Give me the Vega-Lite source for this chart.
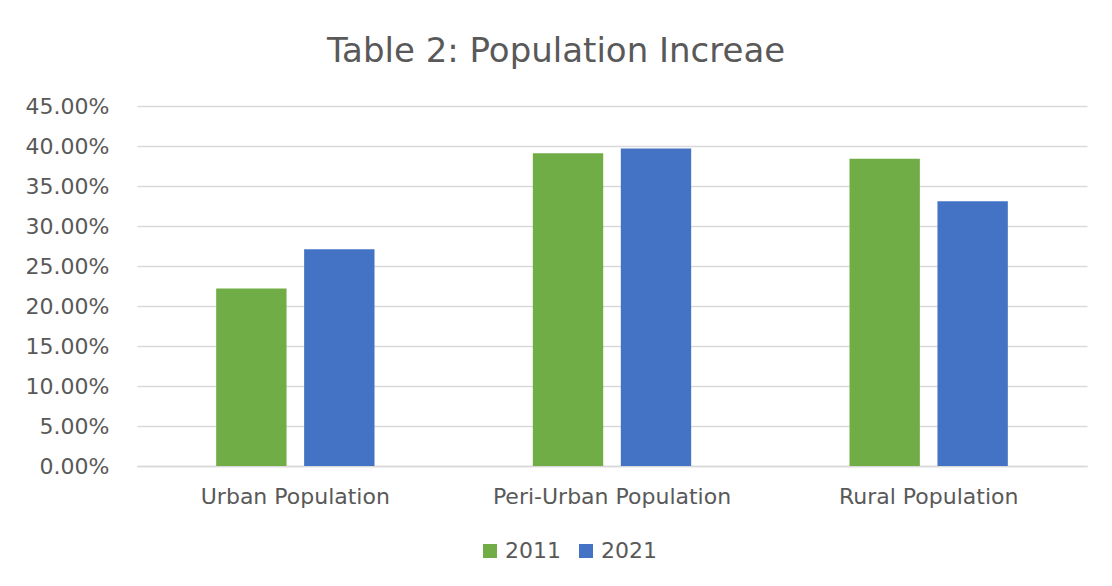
{
  "$schema": "https://vega.github.io/schema/vega-lite/v6.json",
  "autosize": {"type": "none"},
  "width": 950,
  "height": 360,
  "padding": {"left": 137, "top": 106, "right": 25, "bottom": 120},
  "background": "white",
  "title": {
    "text": "Table 2: Population Increae",
    "font": "DejaVu Sans",
    "fontSize": 34,
    "fontWeight": "normal",
    "color": "#595959",
    "anchor": "middle",
    "frame": "bounds",
    "offset": 26
  },
  "data": {
    "values": [
      {"category": "Urban Population", "year": "2011", "value": 0.222},
      {"category": "Urban Population", "year": "2021", "value": 0.271},
      {"category": "Peri-Urban Population", "year": "2011", "value": 0.391},
      {"category": "Peri-Urban Population", "year": "2021", "value": 0.397},
      {"category": "Rural Population", "year": "2011", "value": 0.384},
      {"category": "Rural Population", "year": "2021", "value": 0.331}
    ]
  },
  "mark": {"type": "bar"},
  "encoding": {
    "x": {
      "field": "category",
      "type": "nominal",
      "sort": null,
      "title": null,
      "scale": {"paddingInner": 0.5, "paddingOuter": 0.25},
      "axis": {
        "labelAngle": 0,
        "labelFont": "DejaVu Sans",
        "labelFontSize": 22,
        "labelColor": "#595959",
        "labelPadding": 20,
        "labelLimit": 400,
        "ticks": false,
        "domainColor": "#d9d9d9",
        "domainWidth": 1.5
      }
    },
    "xOffset": {
      "field": "year",
      "type": "nominal",
      "scale": {"paddingInner": 0.2, "paddingOuter": 0}
    },
    "y": {
      "field": "value",
      "type": "quantitative",
      "title": null,
      "scale": {"domain": [0, 0.45]},
      "axis": {
        "values": [0, 0.05, 0.1, 0.15, 0.2, 0.25, 0.3, 0.35, 0.4, 0.45],
        "format": ".2%",
        "labelFont": "DejaVu Sans",
        "labelFontSize": 22,
        "labelColor": "#595959",
        "labelPadding": 28,
        "ticks": false,
        "domain": false,
        "gridColor": "#d9d9d9",
        "gridWidth": 1.5
      }
    },
    "color": {
      "field": "year",
      "type": "nominal",
      "scale": {"domain": ["2011", "2021"], "range": ["#70AD47", "#4472C4"]},
      "legend": {
        "title": null,
        "orient": "none",
        "legendX": 342,
        "legendY": 434,
        "direction": "horizontal",
        "symbolType": "square",
        "symbolSize": 196,
        "symbolStrokeWidth": 0,
        "labelFont": "DejaVu Sans",
        "labelFontSize": 22,
        "labelColor": "#595959",
        "columnPadding": 14
      }
    }
  },
  "config": {
    "view": {"stroke": null}
  }
}
